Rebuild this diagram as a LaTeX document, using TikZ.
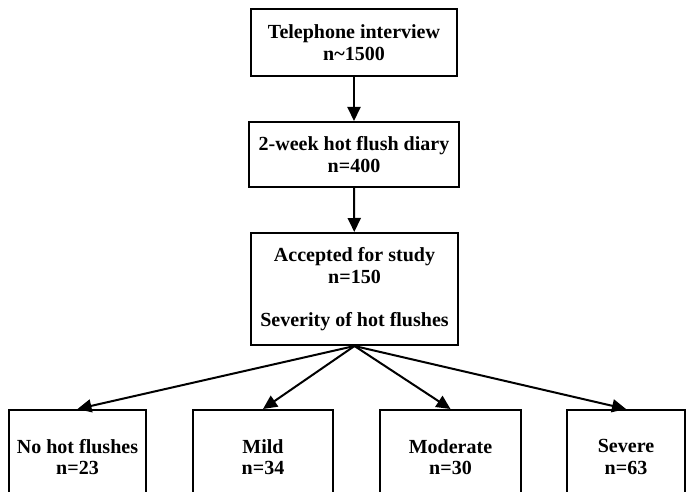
\documentclass[tikz,border=0pt]{standalone}
\usepackage{fontspec}
\setmainfont{Liberation Serif}
\usetikzlibrary{arrows.meta}
\tikzset{
  box/.style={draw,line width=2pt,align=center,inner sep=0pt,
    font=\bfseries\fontsize{20}{21.5}\selectfont},
  arr/.style={line width=2pt,-{Triangle[length=14pt,width=13pt]}}
}
\begin{document}
\begin{tikzpicture}[x=1pt,y=-1pt]
\useasboundingbox (0,0) rectangle (688,492);
\clip (0,0) rectangle (688,492);
% top of the chart
\node[box,minimum width=206pt,minimum height=67pt] (phone) at (354,42.5) {Telephone interview\\n\textasciitilde1500};
\node[box,minimum width=210pt,minimum height=65pt] (diary) at (354,154.5) {2-week hot flush diary\\n=400};
\node[box,minimum width=207pt,minimum height=112pt] (study) at (354.5,289) {Accepted for study\\n=150\\[21.5pt]Severity of hot flushes};
% severity groups
\node[box,minimum width=137pt,minimum height=94pt] (none) at (77.5,457) {No hot flushes\\n=23};
\node[box,minimum width=140pt,minimum height=94pt] (mild) at (263,457) {Mild\\n=34};
\node[box,minimum width=141pt,minimum height=94pt] (moder) at (450.5,457) {Moderate\\n=30};
\node[box,minimum width=118pt,minimum height=94pt] (severe) at (626,457) {Severe\\n=63};
\draw[arr] (phone) -- (diary);
\draw[arr] (diary) -- (study);
\draw[arr] (study.south) -- (none.north);
\draw[arr] (study.south) -- (mild.north);
\draw[arr] (study.south) -- (moder.north);
\draw[arr] (study.south) -- (severe.north);
\end{tikzpicture}
\end{document}
